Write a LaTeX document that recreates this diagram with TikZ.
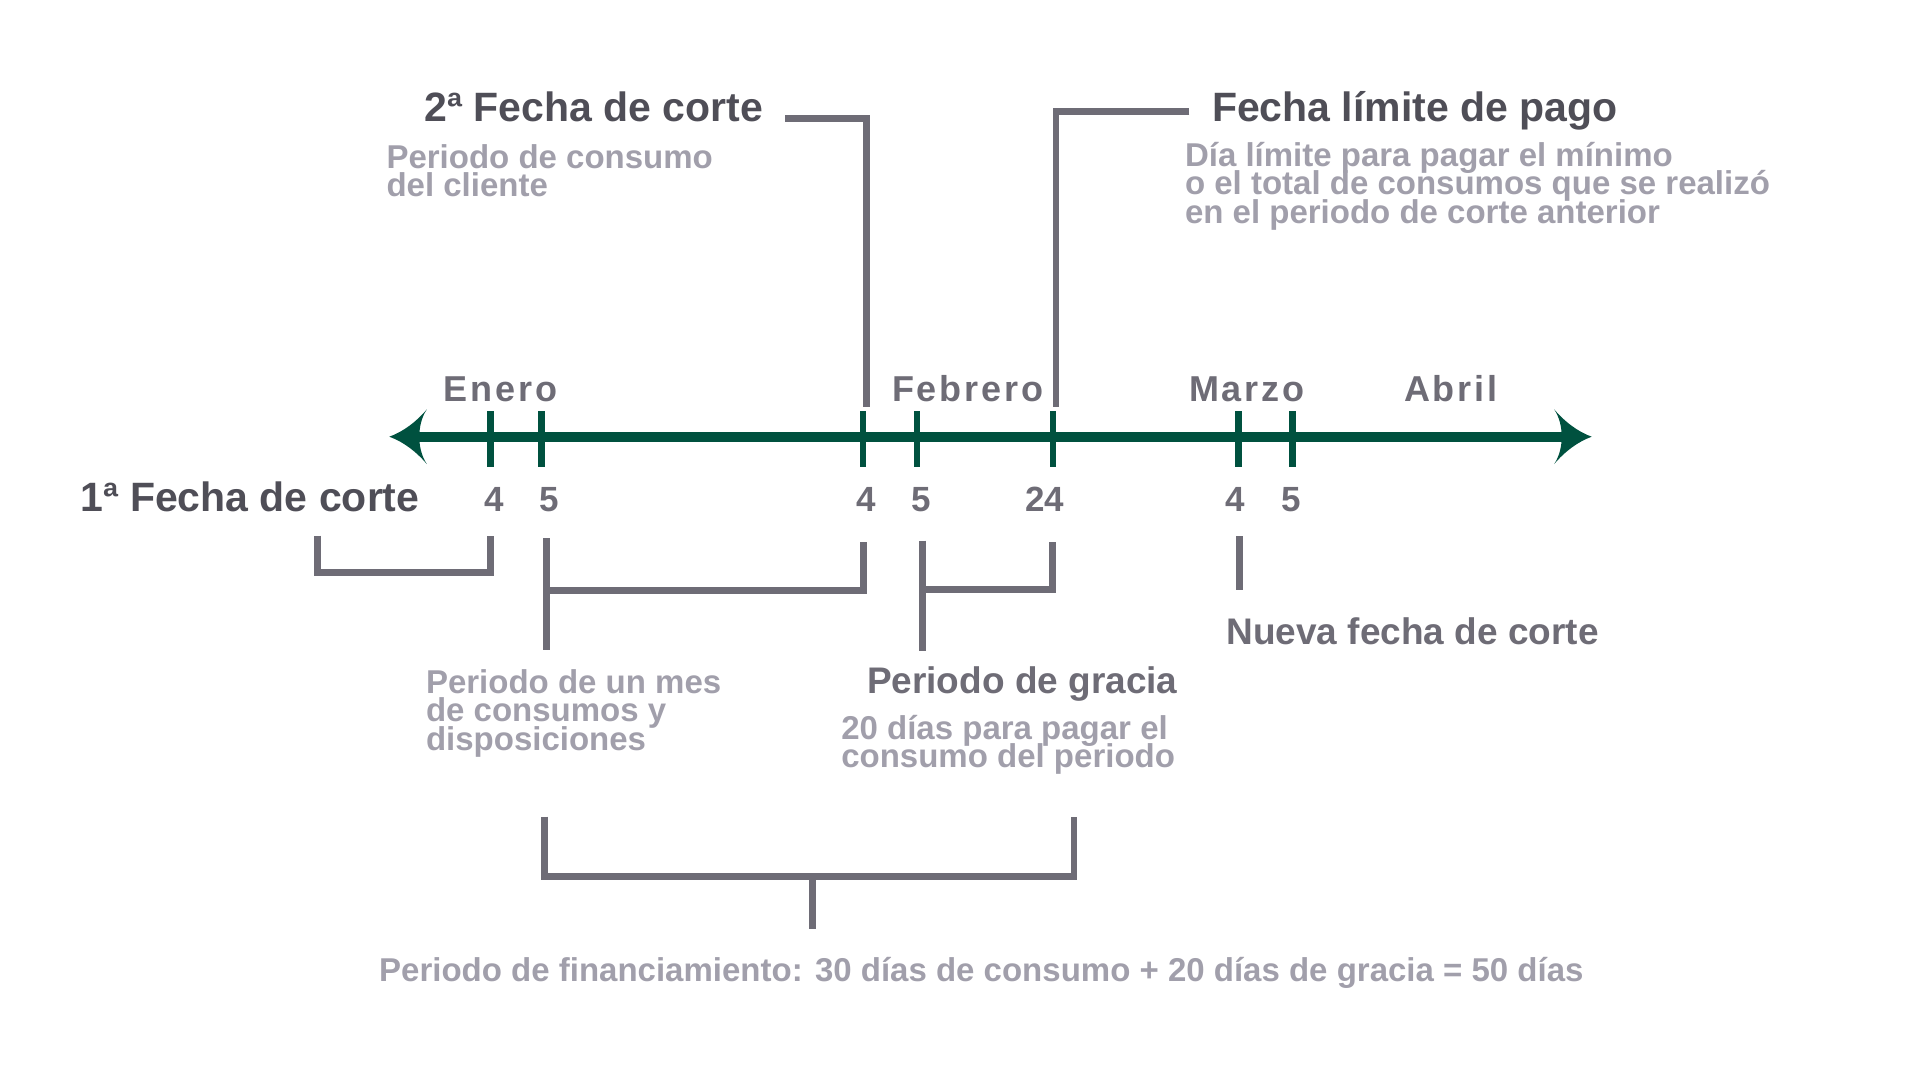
\documentclass[tikz,border=0pt]{standalone}
\usepackage{fontspec}
\setmainfont{Liberation Sans}
\newfontfamily\spacedfont[LetterSpace=8]{Liberation Sans}
\definecolor{cdark}{RGB}{79,78,87}
\definecolor{cmed}{RGB}{110,108,118}
\definecolor{clight}{RGB}{161,159,171}
\definecolor{cgreen}{RGB}{0,81,63}
\newcommand\mydescfont{\bfseries\fontsize{33}{28.5}\selectfont\lineskiplimit -100pt\relax}
\tikzset{
  tlhead/.pic={\fill[cgreen] (0,0) .. controls (14,-5) and (27,-15) .. (37.5,-27.3)
     .. controls (32,-19) and (30,-9) .. (30,0)
     .. controls (30,9) and (32,19) .. (37.5,27.3)
     .. controls (27,15) and (14,5) .. (0,0) -- cycle;}
}
\begin{document}
\begin{tikzpicture}[x=1pt,y=-1pt,
  every node/.style={inner sep=0pt, outer sep=0pt},
  ttl/.style={font=\bfseries\fontsize{41}{41}\selectfont, text=cdark, anchor=base west},
  desc/.style={font=\mydescfont, text=clight, anchor=base west, align=left},
  month/.style={font=\spacedfont\bfseries\fontsize{36}{36}\selectfont, text=cmed, anchor=base west},
  daynum/.style={font=\bfseries\fontsize{35}{35}\selectfont, text=cmed, anchor=base},
  lbl/.style={font=\bfseries\fontsize{37}{37}\selectfont, text=cmed, anchor=base west},
  brk/.style={draw=cmed, line width=6.8pt, line join=miter, line cap=butt},
  tickmark/.style={draw=cgreen, line width=6.5pt},
  axisline/.style={draw=cgreen, line width=10pt},
]
\useasboundingbox (0,0) rectangle (1920,1080);

% timeline
\coordinate (axL) at (389.3,436.7);
\coordinate (axR) at (1591.7,436.7);
\draw[axisline, shorten <=30pt, shorten >=30pt] (axL) -- (axR);
\pic at (axL) {tlhead};
\pic[rotate=180] at (axR) {tlhead};
\foreach \n/\x in {a/490.5, b/541.6, c/863, d/917, e/1053, f/1238.3, g/1292.3}{
  \coordinate (tk\n) at (\x,436.7);
  \draw[tickmark] (\x,411) -- (\x,466.7);
}

% titles (multi-line nodes are anchored at the baseline of their last line)
\node[ttl] (t2) at (424.5,121) {2ª Fecha de corte};
\node[ttl] (tlim) at (1212,121) {Fecha límite de pago};
\node[ttl] (t1) at (80.7,511.7) {1ª Fecha de corte};
\node[desc] (d2) at (386.5,196.5) {Periodo de consumo\\del cliente};
\node[desc] (dlim) at (1185,223) {Día límite para pagar el mínimo\\o el total de consumos que se realizó\\en el periodo de corte anterior};

% months
\node[month] (mene) at (443.5,401) {Enero};
\node[month] (mfeb) at (892,401) {Febrero};
\node[month] (mmar) at (1189,401) {Marzo};
\node[month] (mabr) at (1404,401) {Abril};

% day numbers
\node[daynum] (n1) at (494,511.7) {4};
\node[daynum] (n2) at (549,511.7) {5};
\node[daynum] (n3) at (866,511.7) {4};
\node[daynum] (n4) at (921.7,511.7) {5};
\node[daynum] (n5) at (1044.5,511.7) {24};
\node[daynum] (n6) at (1235.3,511.7) {4};
\node[daynum] (n7) at (1291,511.7) {5};

% lower labels
\node[lbl] (nueva) at (1226.5,644) {Nueva fecha de corte};
\node[desc] (dmes) at (426,750) {Periodo de un mes\\de consumos y\\disposiciones};
\node[lbl] (gracia) at (867,693.3) {Periodo de gracia};
\node[desc] (d20) at (841.3,767.5) {20 días para pagar el\\consumo del periodo};
\node[desc, font=\bfseries\fontsize{33}{33}\selectfont] (fin) at (379.2,981.7) {Periodo de financiamiento: 30 días de consumo + 20 días de gracia = 50 días};

% connectors from titles
\coordinate (c2s) at (785,118.7);
\coordinate (c2e) at (866.3,407.3);
\draw[brk] (c2s) -| (c2e);
\coordinate (cls) at (1189.3,111.7);
\coordinate (cle) at (1056,407.3);
\draw[brk] (cls) -| (cle);

% brackets
\coordinate (b1a) at (317.7,535.7);
\coordinate (b1b) at (490.7,572.5);
\coordinate (b1c) at (490.7,535.7);
\draw[brk] (b1a) |- (b1b) -- (b1c);

\coordinate (b2t) at (546.7,538);
\coordinate (b2b) at (546.7,650);
\coordinate (b2m) at (546.7,590.5);
\coordinate (b2r) at (863.3,541.7);
\draw[brk] (b2t) -- (b2b);
\draw[brk] (b2m) -| (b2r);

\coordinate (b3t) at (922.5,540.7);
\coordinate (b3b) at (922.5,651);
\coordinate (b3m) at (922.5,589.3);
\coordinate (b3r) at (1052.5,541.7);
\draw[brk] (b3t) -- (b3b);
\draw[brk] (b3m) -| (b3r);

\coordinate (b4t) at (1239.3,536);
\coordinate (b4b) at (1239.3,590);
\draw[brk] (b4t) -- (b4b);

\coordinate (bfa) at (544.5,816.7);
\coordinate (bfb) at (1074,876.3);
\coordinate (bfc) at (1074,816.7);
\coordinate (bfm) at (812.5,876.3);
\coordinate (bfs) at (812.5,928.7);
\draw[brk] (bfa) |- (bfb) -- (bfc);
\draw[brk] (bfm) -- (bfs);
\end{tikzpicture}
\end{document}
